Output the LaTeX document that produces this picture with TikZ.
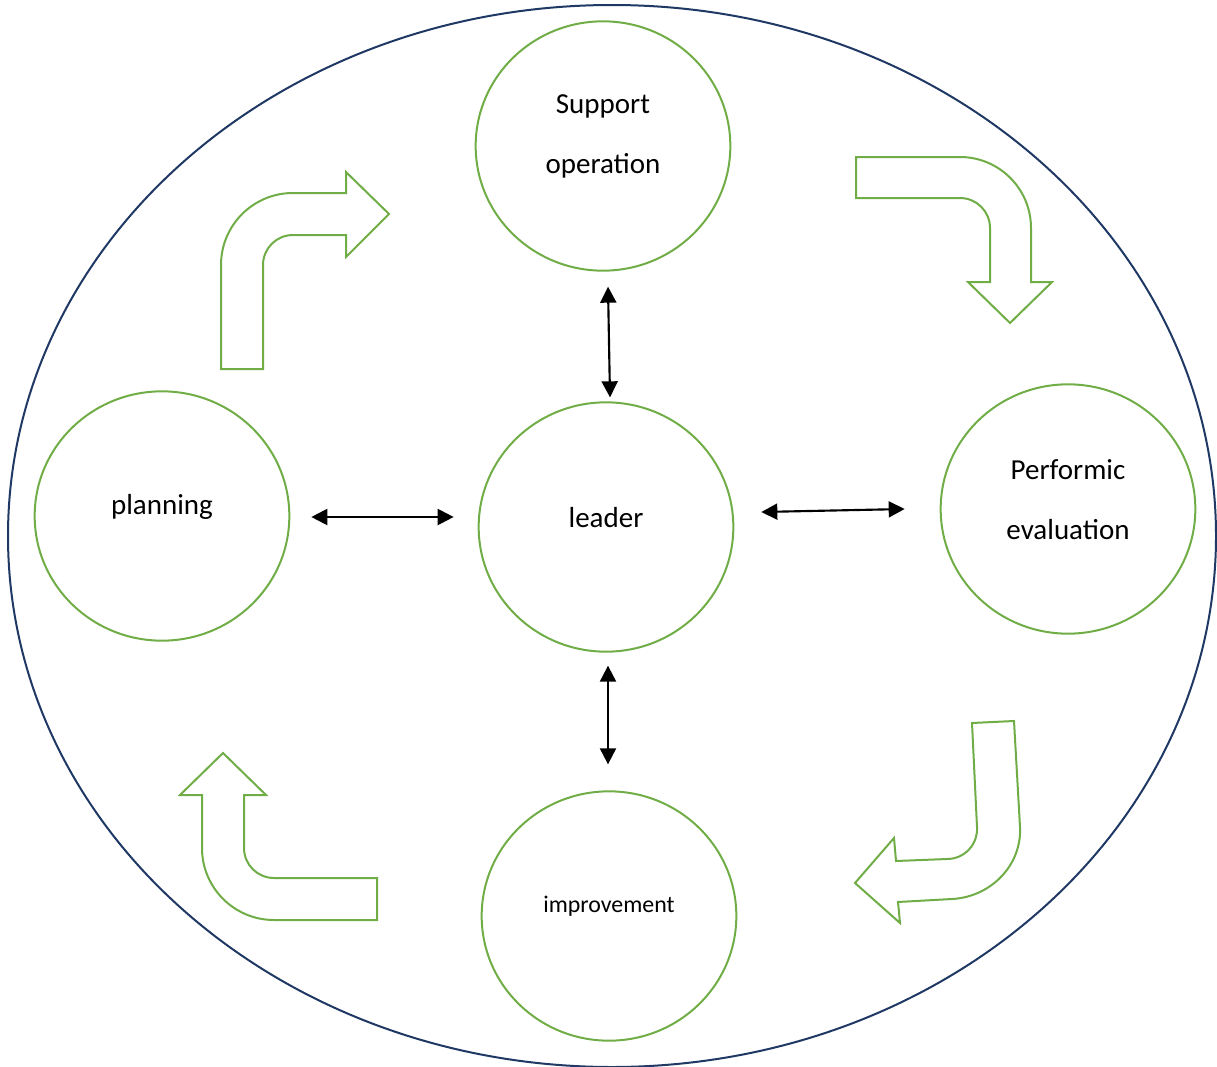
\documentclass[tikz,border=0pt]{standalone}
\usepackage{fontspec}
\setmainfont{Carlito}
\usetikzlibrary{arrows.meta,shapes.geometric}
\definecolor{leafgreen}{HTML}{70AD47}
\definecolor{navyline}{HTML}{1F3864}
\tikzset{
	bubble/.style={ellipse, draw=leafgreen, line width=1.5pt, minimum width=191pt, minimum height=187pt, inner sep=0pt},
	caption/.style={font=\fontsize{21.75}{45}\selectfont, align=center, yshift=7pt},
	hop/.style={{Triangle[length=12pt,width=12pt]}-{Triangle[length=12pt,width=12pt]}, line width=1.6pt},
	bentarrow/.style={draw=leafgreen, line width=1.5pt, line join=miter}
}

\begin{document}
\begin{tikzpicture}[x=0.75pt,y=-0.75pt]
	\useasboundingbox (0,0) rectangle (1217,1067);
	\draw[navyline, line width=1.5pt] (612,536) ellipse [x radius=604, y radius=531];

	% stages
	\node[bubble, label={[caption]center:Support\\operation}] (supp) at (603,146) {};
	\node[bubble, label={[caption]center:leader}] (lead) at (606,527) {};
	\node[bubble, label={[caption]center:planning}] (plan) at (162,516) {};
	\node[bubble, label={[caption]center:Performic\\evaluation}] (eval) at (1068,509) {};
	\node[bubble, label={[caption, font=\fontsize{17.9}{22}\selectfont]center:improvement}] (impr) at (609,916) {};

	% links to the leader
	\draw[hop] ([xshift=3.75pt,yshift=-11.25pt]supp.south) -- ([xshift=3pt,yshift=3pt]lead.north);
	\draw[hop] ([xshift=15.75pt,yshift=-0.75pt]plan.east) -- ([xshift=-18pt,yshift=7.5pt]lead.west);
	\draw[hop] ([xshift=20.25pt,yshift=11.25pt]lead.east) -- ([xshift=-26.25pt]eval.west);
	\draw[hop] ([xshift=1.5pt,yshift=-9.75pt]lead.south) -- ([xshift=-0.75pt,yshift=19.5pt]impr.north);

	% cycle arrows
	\draw[bentarrow] (221,369) -- (221,265) arc[start angle=180, end angle=270, radius=72] -- (346,193) -- (346,172) -- (389,214) -- (346,257) -- (346,235) -- (293,235) arc[start angle=270, end angle=180, radius=30] -- (263,369) -- cycle;
	\draw[bentarrow] (856,157) -- (960,157) arc[start angle=270, end angle=360, radius=71] -- (1031,282) -- (1052,282) -- (1010,323) -- (968,282) -- (990,282) -- (990,228) arc[start angle=0, end angle=-90, radius=30] -- (856,198) -- cycle;
	\draw[bentarrow] (972,723) -- (977,827) .. controls (978,845) and (964,859) .. (947,859) -- (896,861) -- (894,838) -- (855,883) -- (900,923) -- (898,902) -- (952,899) .. controls (991,897) and (1022,865) .. (1020,827) -- (1014,721) -- cycle;
	\draw[bentarrow] (377,878) -- (274,878) arc[start angle=90, end angle=180, radius=30] -- (244,795) -- (266,795) -- (223,753) -- (180,795) -- (202,795) -- (202,848) arc[start angle=180, end angle=90, radius=72] -- (377,920) -- cycle;
\end{tikzpicture}
\end{document}
